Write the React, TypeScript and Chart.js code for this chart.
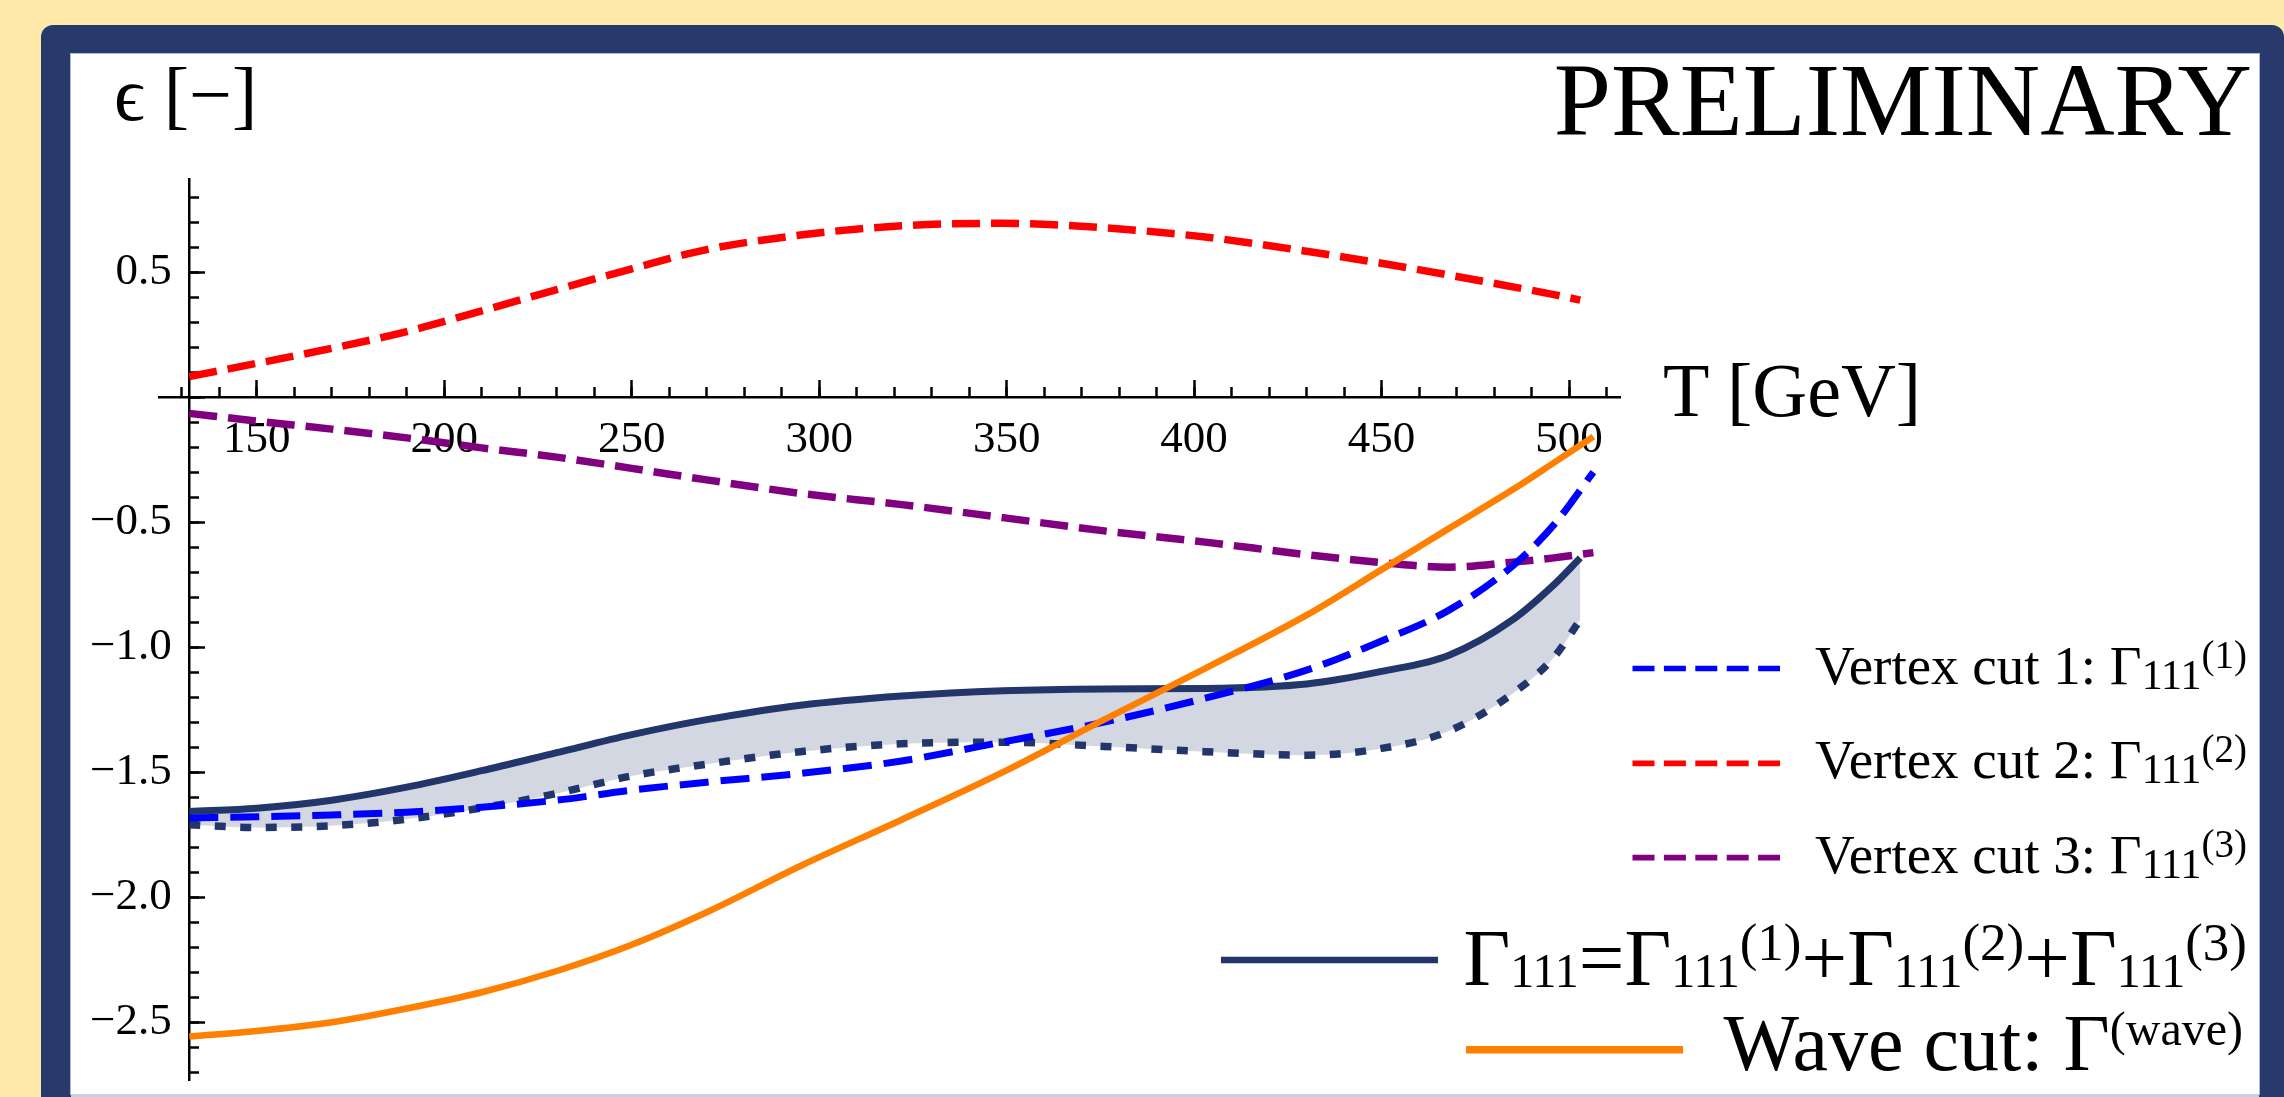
import React, { useEffect, useRef } from "react";
import { Chart, registerables } from "chart.js";

Chart.register(...registerables);

const PAGE_W = 2284;
const PAGE_H = 1097;

// Temperature samples (GeV)
const temperatures = [132, 150, 170, 190, 210, 230, 250, 270, 295, 322, 349, 376, 403, 430, 450, 468, 485, 496, 503];
const temperaturesLong = [132, 150, 170, 190, 210, 230, 250, 270, 295, 322, 349, 376, 403, 430, 450, 468, 485, 496, 506.5];

// epsilon contributions
const vertexCut1 = [-1.683, -1.678, -1.671, -1.66, -1.64, -1.612, -1.572, -1.54, -1.505, -1.455, -1.379, -1.3, -1.204, -1.092, -0.975, -0.852, -0.675, -0.51, -0.3];
const vertexCut2 = [0.082, 0.135, 0.195, 0.262, 0.345, 0.43, 0.513, 0.59, 0.648, 0.685, 0.695, 0.677, 0.64, 0.583, 0.535, 0.488, 0.441, 0.41, 0.388];
const vertexCut3 = [-0.065, -0.096, -0.128, -0.163, -0.203, -0.24, -0.285, -0.331, -0.385, -0.43, -0.482, -0.535, -0.58, -0.63, -0.662, -0.68, -0.66, -0.643, -0.622];
const vertexTotal = [-1.657, -1.644, -1.612, -1.56, -1.494, -1.422, -1.35, -1.29, -1.232, -1.195, -1.174, -1.167, -1.165, -1.147, -1.097, -1.032, -0.89, -0.75, -0.643];
const vertexTotalLower = [-1.71, -1.721, -1.714, -1.688, -1.643, -1.585, -1.515, -1.468, -1.418, -1.386, -1.38, -1.397, -1.418, -1.432, -1.405, -1.335, -1.185, -1.04, -0.89];
const waveCut = [-2.557, -2.535, -2.5, -2.445, -2.38, -2.295, -2.19, -2.06, -1.875, -1.69, -1.5, -1.29, -1.085, -0.872, -0.69, -0.525, -0.37, -0.262, -0.158];

// Axis ticks
const xMajorTicks = [150, 200, 250, 300, 350, 400, 450, 500];
const xMinorTicks = [130, 140, 150, 160, 170, 180, 190, 200, 210, 220, 230, 240, 250, 260, 270, 280, 290, 300, 310, 320, 330, 340, 350, 360, 370, 380, 390, 400, 410, 420, 430, 440, 450, 460, 470, 480, 490, 500, 510];
const yMajorTicks = [-2.5, -2.0, -1.5, -1.0, -0.5, 0, 0.5];
const yMinorTicks = [-2.7, -2.6, -2.5, -2.4, -2.3, -2.2, -2.1, -2.0, -1.9, -1.8, -1.7, -1.6, -1.5, -1.4, -1.3, -1.2, -1.1, -1.0, -0.9, -0.8, -0.7, -0.6, -0.5, -0.4, -0.3, -0.2, -0.1, 0, 0.1, 0.2, 0.3, 0.4, 0.5, 0.6, 0.7, 0.8];

const X_MIN = 124;
const X_MAX = 513.6;
const Y_MIN = -2.731;
const Y_MAX = 0.871;
const Y_AXIS_AT = 132;
// y tick labels are right-aligned a little left of the axis line
const Y_LABELS_AT = 127.3;

const legendCuts = ["1", "2", "3"];

const BLUE = "#0000FF";
const RED = "#FF0000";
const PURPLE = "#800080";
const NAVY = "#23366B";
const ORANGE = "#FF7F00";
const SERIF = "'Liberation Serif', 'Times New Roman', serif";

const toPoints = (xs: number[], ys: number[]) => xs.map((x, i) => ({ x, y: ys[i] }));
const setTicks = (values: number[]) => (scale: any) => {
  scale.ticks = values.map((value) => ({ value }));
};
const noPadding = (scale: any) => {
  scale.paddingLeft = 0;
  scale.paddingRight = 0;
  scale.paddingTop = 0;
  scale.paddingBottom = 0;
};

function tickScale(axis: "x" | "y", values: number[], length: number, withLine: boolean) {
  const common: any = {
    type: "linear",
    axis,
    afterBuildTicks: setTicks(values),
    afterFit: noPadding,
    grid: { display: true, drawOnChartArea: false, drawTicks: true, tickLength: -length, tickWidth: 2.5, tickColor: "#000" },
    border: { display: withLine, color: "#000", width: 2.5 },
    ticks: { display: false },
  };
  if (axis === "x") return { ...common, min: X_MIN, max: X_MAX, position: { y: 0 } };
  return { ...common, min: Y_MIN, max: Y_MAX, position: { x: Y_AXIS_AT } };
}

function EpsilonChart() {
  const canvasRef = useRef<HTMLCanvasElement | null>(null);

  useEffect(() => {
    document.body.style.margin = "0";
    const canvas = canvasRef.current;
    if (!canvas) return;
    const tickFont = { family: SERIF, size: 45 };
    const line = { pointRadius: 0, cubicInterpolationMode: "monotone" as const, borderCapStyle: "butt" as const };

    const chart = new Chart(canvas, {
      type: "line",
      data: {
        datasets: [
          { ...line, label: "wave", data: toPoints(temperaturesLong, waveCut), borderColor: ORANGE, borderWidth: 6.5, fill: false },
          { ...line, label: "cut1", data: toPoints(temperaturesLong, vertexCut1), borderColor: BLUE, borderWidth: 7, borderDash: [29, 12], fill: false },
          { ...line, label: "cut2", data: toPoints(temperatures, vertexCut2), borderColor: RED, borderWidth: 7.5, borderDash: [28, 11], fill: false },
          { ...line, label: "cut3", data: toPoints(temperaturesLong, vertexCut3), borderColor: PURPLE, borderWidth: 7.5, borderDash: [28, 11], fill: false },
          { ...line, label: "total", data: toPoints(temperatures, vertexTotal), borderColor: NAVY, borderWidth: 7, fill: false },
          {
            ...line,
            label: "totalLower",
            data: toPoints(temperatures, vertexTotalLower),
            borderColor: NAVY,
            borderWidth: 7.5,
            borderDash: [11, 14.5],
            fill: { target: 4 },
            backgroundColor: "rgba(36, 56, 106, 0.2)",
          },
        ],
      },
      options: {
        responsive: false,
        maintainAspectRatio: false,
        devicePixelRatio: 1,
        animation: false,
        events: [],
        layout: { padding: { left: 159.3, top: 179.3, right: PAGE_W - 1620, bottom: PAGE_H - 1080 } },
        plugins: { legend: { display: false }, tooltip: { enabled: false }, title: { display: false } },
        scales: {
          x: {
            type: "linear",
            axis: "x",
            min: X_MIN,
            max: X_MAX,
            position: { y: 0 },
            afterBuildTicks: setTicks(xMajorTicks),
            afterFit: noPadding,
            grid: { display: false, drawTicks: false },
            border: { display: true, color: "#000", width: 2.5 },
            ticks: { font: tickFont, color: "#000", padding: 16, autoSkip: false, maxRotation: 0, minRotation: 0, callback: (v: any) => String(v) },
          },
          xMajor: tickScale("x", xMajorTicks, 17, false),
          xMinor: tickScale("x", xMinorTicks, 10, false),
          y: {
            type: "linear",
            axis: "y",
            min: Y_MIN,
            max: Y_MAX,
            position: { x: Y_LABELS_AT },
            afterBuildTicks: setTicks(yMajorTicks),
            afterFit: noPadding,
            grid: { display: false, drawTicks: false },
            border: { display: false },
            ticks: {
              font: tickFont,
              color: "#000",
              padding: 0,
              autoSkip: false,
              callback: (v: any) => (Number(v) === 0 ? "" : Number(v).toFixed(1).replace("-", "\u2212")),
            },
          },
          yMajor: tickScale("y", yMajorTicks, 17, true),
          yMinor: tickScale("y", yMinorTicks, 10, false),
        } as any,
      },
    });
    return () => chart.destroy();
  }, []);

  return <canvas ref={canvasRef} width={PAGE_W} height={PAGE_H} style={{ position: "absolute", left: 0, top: 0 }} />;
}

function Annotations() {
  const dashedY = [668.5, 763.3, 857.7];
  const dashedColors = [BLUE, RED, PURPLE];
  return (
    <svg width={PAGE_W} height={PAGE_H} style={{ position: "absolute", left: 0, top: 0, pointerEvents: "none" }} fontFamily={SERIF} fill="#000">
      <text x={114} y={120} fontSize={76}>ϵ [−]</text>
      <text x={2252} y={135} fontSize={103} textAnchor="end">PRELIMINARY</text>
      <text x={1663} y={416} fontSize={76}>T [GeV]</text>

      {legendCuts.map((n, i) => (
        <g key={n}>
          <line x1={1632.5} x2={1780} y1={dashedY[i]} y2={dashedY[i]} stroke={dashedColors[i]} strokeWidth={5.7} strokeDasharray="22 9.4" />
          <text x={2247} y={dashedY[i] + 15} fontSize={55} textAnchor="end">
            {`Vertex cut ${n}: Γ`}<tspan fontSize={42} dy={5}>111</tspan><tspan fontSize={39} dy={-21}>{`(${n})`}</tspan>
          </text>
        </g>
      ))}

      <line x1={1221} x2={1438} y1={960} y2={960} stroke={NAVY} strokeWidth={6.7} />
      <text x={2247} y={985} fontSize={81} textAnchor="end">
        Γ<tspan fontSize={48} dy={2}>111</tspan><tspan dy={-2}>=Γ</tspan><tspan fontSize={48} dy={2}>111</tspan><tspan fontSize={53} dy={-27}>(1)</tspan><tspan dy={25}>+Γ</tspan><tspan fontSize={48} dy={2}>111</tspan><tspan fontSize={53} dy={-27}>(2)</tspan><tspan dy={25}>+Γ</tspan><tspan fontSize={48} dy={2}>111</tspan><tspan fontSize={53} dy={-27}>(3)</tspan>
      </text>

      <line x1={1466} x2={1683} y1={1049.7} y2={1049.7} stroke={ORANGE} strokeWidth={7.5} />
      <text x={2243} y={1070} fontSize={80} textAnchor="end">
        Wave cut: Γ<tspan fontSize={48} dy={-25}>(wave)</tspan>
      </text>
    </svg>
  );
}

export default function App() {
  return (
    <div style={{ position: "fixed", left: 0, top: 0, width: PAGE_W, height: PAGE_H, background: "#FFE9AA", overflow: "hidden" }}>
      <div style={{ position: "absolute", left: 41, top: 25, width: 2243, height: 1200, background: "#283A6B", borderRadius: 12 }} />
      <div style={{ position: "absolute", left: 71, top: 54, width: 2188, height: 1040, background: "#FFFFFF", boxShadow: "0 0 0 1px #AEB9D6" }} />
      <div style={{ position: "absolute", left: 71, top: 1094, width: 2188, height: 3, background: "#C9D0E4" }} />
      <EpsilonChart />
      <Annotations />
    </div>
  );
}
